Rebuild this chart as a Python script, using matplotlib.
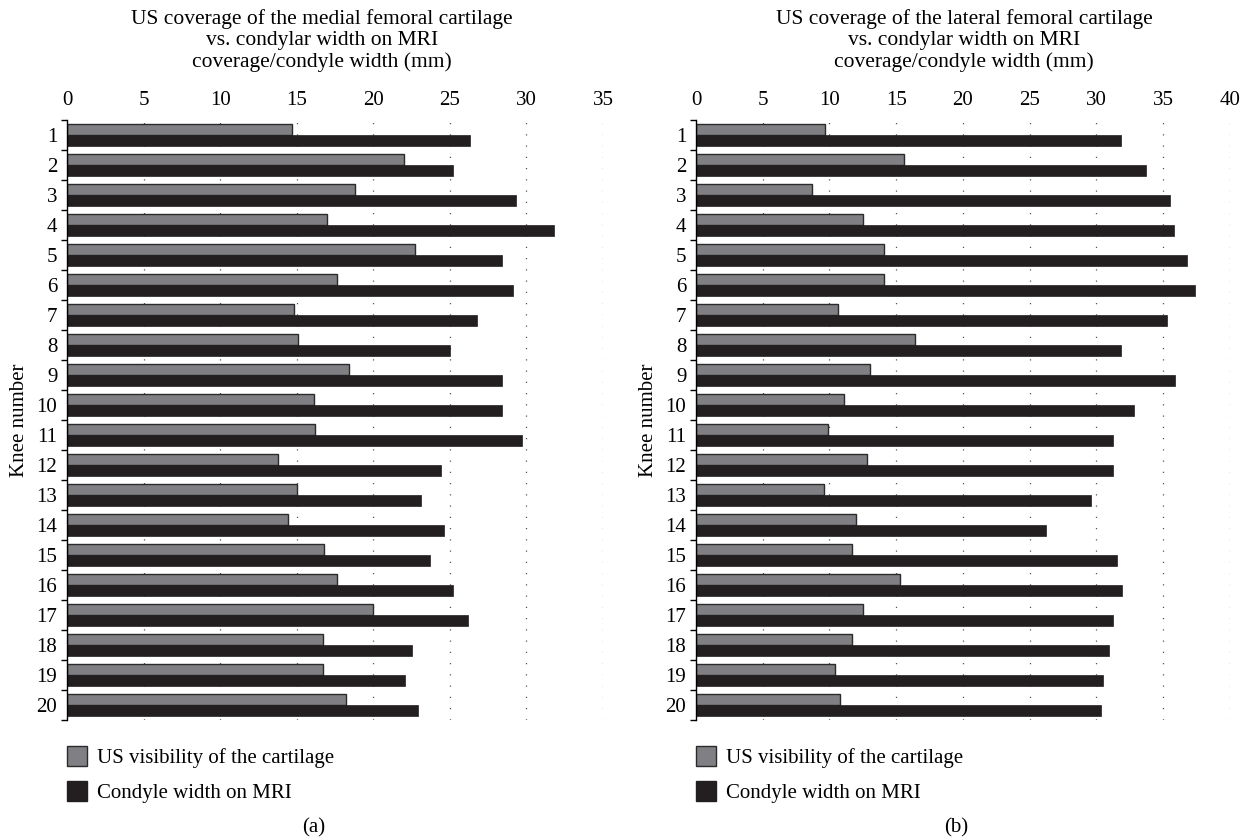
import matplotlib
matplotlib.use("Agg")
import matplotlib.pyplot as plt
import numpy as np
from matplotlib.patches import Patch

plt.rcParams["font.family"] = ["Liberation Serif", "DejaVu Serif"]

knees = list(range(1, 21))

# medial femoral cartilage (mm)
medial_us = [14.7, 22.0, 18.8, 17.0, 22.7, 17.6, 14.8, 15.1, 18.4, 16.1,
             16.2, 13.8, 15.0, 14.4, 16.8, 17.6, 20.0, 16.7, 16.7, 18.2]
medial_mri = [26.3, 25.2, 29.3, 31.8, 28.4, 29.1, 26.8, 25.0, 28.4, 28.4,
              29.7, 24.4, 23.1, 24.6, 23.7, 25.2, 26.2, 22.5, 22.1, 22.9]

# lateral femoral cartilage (mm)
lateral_us = [9.7, 15.6, 8.7, 12.5, 14.1, 14.1, 10.6, 16.4, 13.0, 11.1,
              9.9, 12.8, 9.6, 12.0, 11.7, 15.3, 12.5, 11.7, 10.4, 10.8]
lateral_mri = [31.8, 33.7, 35.5, 35.8, 36.8, 37.4, 35.3, 31.8, 35.9, 32.8,
               31.2, 31.2, 29.6, 26.2, 31.5, 31.9, 31.2, 30.9, 30.5, 30.3]

gray = "#808084"
dark = "#231f20"
fs = 15

fig = plt.figure(figsize=(12.46, 8.40), dpi=100)


def panel(rect, us, mri, xmax, title, tag, cx, tagx):
    ax = fig.add_axes(rect)
    y = np.array(knees)
    h = 0.36
    ax.barh(y - h / 2, us, height=h, color=gray, edgecolor="#2a2a2a", linewidth=1.0)
    ax.barh(y + h / 2, mri, height=h, color=dark, edgecolor=dark, linewidth=0.5)
    ax.set_xlim(0, xmax)
    ax.set_ylim(20.5, 0.5)
    ax.xaxis.tick_top()
    ax.set_xticks(np.arange(0, xmax + 1, 5))
    ax.tick_params(axis="x", length=0, labelsize=fs, pad=7)
    ax.set_yticks(knees)
    ax.set_yticks(np.arange(0.5, 21, 1), minor=True)
    ax.tick_params(axis="y", which="major", length=0, labelsize=fs, pad=7)
    ax.tick_params(axis="y", which="minor", length=4, width=1, direction="out")
    for s in ["top", "right", "bottom"]:
        ax.spines[s].set_visible(False)
    ax.spines["left"].set_linewidth(1.0)
    for v in np.arange(5, xmax + 1, 5):
        ax.axvline(v, color="#555555", linestyle=(0, (1, 8)), linewidth=0.9, zorder=0)
    ax.set_ylabel("Knee number", fontsize=fs, labelpad=5)

    fig.text(cx / 1246, 1 - 9 / 840, title, ha="center", va="top",
             fontsize=15.5, linespacing=1.16)
    handles = [Patch(facecolor=gray, edgecolor="#2a2a2a", label="US visibility of the cartilage"),
               Patch(facecolor=dark, edgecolor=dark, label="Condyle width on MRI")]
    ax.legend(handles=handles, loc="upper left", bbox_to_anchor=(0.0, -0.043),
              frameon=False, fontsize=fs, handlelength=0.95, handleheight=1.1,
              handletextpad=0.5, labelspacing=0.62, borderaxespad=0, borderpad=0)
    fig.text(tagx / 1246, 1 - 828 / 840, tag, ha="center", va="center", fontsize=fs)
    return ax


panel([67 / 1246, 120 / 840, 536 / 1246, 600 / 840], medial_us, medial_mri, 35,
      "US coverage of the medial femoral cartilage\nvs. condylar width on MRI\ncoverage/condyle width (mm)",
      "(a)", 322, 314)
panel([696 / 1246, 120 / 840, 534 / 1246, 600 / 840], lateral_us, lateral_mri, 40,
      "US coverage of the lateral femoral cartilage\nvs. condylar width on MRI\ncoverage/condyle width (mm)",
      "(b)", 964, 956)

fig.savefig("out.png", dpi=100)
